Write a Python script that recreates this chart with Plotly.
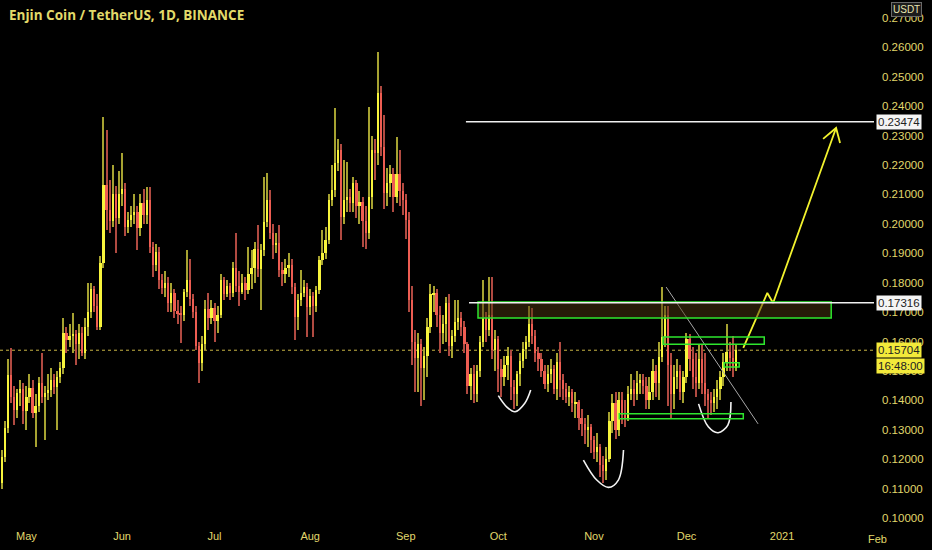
import pandas as pd
import plotly.graph_objects as go

title_text = "Enjin Coin / TetherUS, 1D, BINANCE"
start_date = "2020-04-23"

close = [
    0.1207, 0.1306, 0.1486, 0.1411, 0.1367, 0.1425, 0.1440, 0.1365, 0.1410, 0.1442,
    0.1357, 0.1380, 0.1459, 0.1411, 0.1425, 0.1435, 0.1470, 0.1445, 0.1480, 0.1510,
    0.1629, 0.1605, 0.1620, 0.1625, 0.1590, 0.1630, 0.1560, 0.1650, 0.1700, 0.1780,
    0.1720, 0.1650, 0.1867, 0.2132, 0.2047, 0.2010, 0.2100, 0.2020, 0.2100, 0.2120,
    0.1989, 0.2013, 0.2030, 0.2040, 0.1985, 0.2070, 0.2030, 0.2080, 0.1921, 0.1860,
    0.1905, 0.1809, 0.1782, 0.1800, 0.1731, 0.1765, 0.1705, 0.1695, 0.1690, 0.1768,
    0.1809, 0.1745, 0.1700, 0.1585, 0.1528, 0.1590, 0.1710, 0.1680, 0.1715, 0.1670,
    0.1690, 0.1809, 0.1760, 0.1790, 0.1765, 0.1850, 0.1790, 0.1770, 0.1800, 0.1775,
    0.1830, 0.1850, 0.1915, 0.1845, 0.1911, 0.2006, 0.2081, 0.1969, 0.1928, 0.1935,
    0.1843, 0.1830, 0.1850, 0.1860, 0.1785, 0.1683, 0.1741, 0.1765, 0.1785, 0.1718,
    0.1755, 0.1720, 0.1775, 0.1877, 0.1900, 0.1945, 0.2081, 0.2115, 0.2207, 0.2251,
    0.2023, 0.2081, 0.2090, 0.2070, 0.2140, 0.2060, 0.2075, 0.2010, 0.1969, 0.2091,
    0.2251, 0.2240, 0.2445, 0.2262, 0.2105, 0.2140, 0.2170, 0.2090, 0.2170, 0.2110,
    0.2080, 0.2013, 0.1740, 0.1600, 0.1545, 0.1590, 0.1510, 0.1550, 0.1650, 0.1760,
    0.1765, 0.1690, 0.1630, 0.1660, 0.1730, 0.1585, 0.1620, 0.1665, 0.1680, 0.1650,
    0.1590, 0.1450, 0.1490, 0.1420, 0.1500, 0.1600, 0.1680, 0.1640, 0.1690, 0.1570,
    0.1610, 0.1505, 0.1480, 0.1520, 0.1550, 0.1445, 0.1420, 0.1490, 0.1535, 0.1575,
    0.1600, 0.1660, 0.1620, 0.1560, 0.1540, 0.1500, 0.1455, 0.1490, 0.1505, 0.1440,
    0.1530, 0.1470, 0.1440, 0.1410, 0.1430, 0.1390, 0.1395, 0.1340, 0.1320, 0.1300,
    0.1310, 0.1265, 0.1225, 0.1240, 0.1180, 0.1160, 0.1200, 0.1330, 0.1390, 0.1300,
    0.1400, 0.1350, 0.1340, 0.1420, 0.1440, 0.1420, 0.1460, 0.1470, 0.1450, 0.1400,
    0.1430, 0.1500, 0.1460, 0.1547, 0.1615, 0.1690, 0.1520, 0.1420, 0.1480, 0.1500,
    0.1430, 0.1480, 0.1610, 0.1540, 0.1480, 0.1460, 0.1540, 0.1460, 0.1420, 0.1400,
    0.1390, 0.1410, 0.1440, 0.1480, 0.1530, 0.1565, 0.1545, 0.1510, 0.15704,
]

high = [
    0.1230, 0.1330, 0.1540, 0.1578, 0.1450, 0.1440, 0.1470, 0.1460, 0.1450, 0.1490,
    0.1470, 0.1420, 0.1480, 0.1560, 0.1450, 0.1490, 0.1510, 0.1490, 0.1500, 0.1530,
    0.1680, 0.1650, 0.1660, 0.1697, 0.1640, 0.1660, 0.1650, 0.1680, 0.1800, 0.1800,
    0.1790, 0.1760, 0.1890, 0.2363, 0.2320, 0.2150, 0.2200, 0.2130, 0.2180, 0.2240,
    0.2140, 0.2040, 0.2060, 0.2100, 0.2060, 0.2100, 0.2120, 0.2125, 0.2125, 0.1940,
    0.1930, 0.1920, 0.1830, 0.1840, 0.1820, 0.1800, 0.1780, 0.1740, 0.1720, 0.1780,
    0.1911, 0.1880, 0.1760, 0.1720, 0.1600, 0.1620, 0.1740, 0.1765, 0.1740, 0.1730,
    0.1720, 0.1830, 0.1820, 0.1810, 0.1800, 0.1870, 0.1969, 0.1840, 0.1830, 0.1820,
    0.1920, 0.1911, 0.1940, 0.1996, 0.1930, 0.2159, 0.2173, 0.2114, 0.2000, 0.1969,
    0.1995, 0.1870, 0.1880, 0.1900, 0.1880, 0.1800, 0.1760, 0.1843, 0.1810, 0.1800,
    0.1780, 0.1770, 0.1790, 0.1890, 0.1980, 0.1990, 0.2100, 0.2200, 0.2394, 0.2290,
    0.2270, 0.2217, 0.2210, 0.2120, 0.2160, 0.2150, 0.2110, 0.2090, 0.2060, 0.2397,
    0.2300, 0.2290, 0.2585, 0.2470, 0.2370, 0.2190, 0.2200, 0.2190, 0.2296, 0.2250,
    0.2140, 0.2100, 0.2040, 0.1790, 0.1640, 0.1630, 0.1610, 0.1580, 0.1680, 0.1795,
    0.1790, 0.1780, 0.1720, 0.1690, 0.1750, 0.1760, 0.1640, 0.1740, 0.1740, 0.1700,
    0.1670, 0.1600, 0.1510, 0.1520, 0.1520, 0.1620, 0.1810, 0.1700, 0.1820, 0.1820,
    0.1640, 0.1620, 0.1540, 0.1550, 0.1580, 0.1570, 0.1470, 0.1500, 0.1560, 0.1600,
    0.1620, 0.1720, 0.1715, 0.1640, 0.1580, 0.1560, 0.1520, 0.1520, 0.1540, 0.1520,
    0.1560, 0.1600, 0.1490, 0.1460, 0.1450, 0.1440, 0.1430, 0.1400, 0.1370, 0.1340,
    0.1350, 0.1320, 0.1280, 0.1290, 0.1250, 0.1210, 0.1240, 0.1360, 0.1420, 0.1430,
    0.1430, 0.1430, 0.1400, 0.1450, 0.1490, 0.1470, 0.1500, 0.1490, 0.1490, 0.1480,
    0.1480, 0.1540, 0.1520, 0.1600, 0.1785, 0.1720, 0.1720, 0.1560, 0.1520, 0.1540,
    0.1520, 0.1500, 0.1630, 0.1625, 0.1580, 0.1560, 0.1590, 0.1590, 0.1560, 0.1440,
    0.1430, 0.1440, 0.1470, 0.1500, 0.1560, 0.1660, 0.1600, 0.1620, 0.1590,
]

low = [
    0.1100, 0.1190, 0.1290, 0.1390, 0.1316, 0.1340, 0.1380, 0.1320, 0.1300, 0.1390,
    0.1340, 0.1240, 0.1360, 0.1390, 0.1265, 0.1400, 0.1410, 0.1420, 0.1300, 0.1460,
    0.1490, 0.1560, 0.1580, 0.1560, 0.1520, 0.1540, 0.1550, 0.1540, 0.1620, 0.1680,
    0.1700, 0.1640, 0.1640, 0.1850, 0.1980, 0.1970, 0.1990, 0.1900, 0.2000, 0.2060,
    0.1960, 0.1970, 0.1990, 0.2000, 0.1910, 0.1960, 0.2000, 0.2000, 0.1900, 0.1820,
    0.1840, 0.1780, 0.1760, 0.1750, 0.1700, 0.1700, 0.1680, 0.1660, 0.1595, 0.1670,
    0.1750, 0.1720, 0.1680, 0.1570, 0.1459, 0.1500, 0.1570, 0.1640, 0.1660, 0.1600,
    0.1630, 0.1680, 0.1740, 0.1750, 0.1740, 0.1750, 0.1770, 0.1720, 0.1760, 0.1740,
    0.1760, 0.1780, 0.1800, 0.1820, 0.1707, 0.1890, 0.1990, 0.1950, 0.1880, 0.1900,
    0.1820, 0.1790, 0.1800, 0.1820, 0.1760, 0.1605, 0.1640, 0.1720, 0.1750, 0.1615,
    0.1690, 0.1615, 0.1700, 0.1760, 0.1860, 0.1880, 0.1930, 0.2060, 0.2090, 0.2180,
    0.1945, 0.2000, 0.2040, 0.2040, 0.2040, 0.2020, 0.2000, 0.1920, 0.1915, 0.1950,
    0.2050, 0.2150, 0.2200, 0.2230, 0.2050, 0.2060, 0.2090, 0.2040, 0.2070, 0.2060,
    0.2030, 0.1950, 0.1700, 0.1520, 0.1430, 0.1430, 0.1380, 0.1400, 0.1480, 0.1630,
    0.1700, 0.1650, 0.1560, 0.1590, 0.1600, 0.1550, 0.1545, 0.1600, 0.1640, 0.1620,
    0.1560, 0.1420, 0.1400, 0.1390, 0.1395, 0.1480, 0.1580, 0.1600, 0.1620, 0.1540,
    0.1500, 0.1430, 0.1410, 0.1450, 0.1470, 0.1400, 0.1370, 0.1380, 0.1450, 0.1510,
    0.1540, 0.1580, 0.1590, 0.1530, 0.1500, 0.1480, 0.1440, 0.1430, 0.1460, 0.1420,
    0.1400, 0.1410, 0.1400, 0.1390, 0.1380, 0.1360, 0.1340, 0.1300, 0.1280, 0.1250,
    0.1240, 0.1220, 0.1200, 0.1190, 0.1140, 0.1120, 0.1130, 0.1190, 0.1290, 0.1270,
    0.1280, 0.1320, 0.1310, 0.1330, 0.1400, 0.1380, 0.1400, 0.1420, 0.1420, 0.1370,
    0.1370, 0.1400, 0.1410, 0.1400, 0.1530, 0.1580, 0.1380, 0.1340, 0.1370, 0.1440,
    0.1400, 0.1390, 0.1460, 0.1500, 0.1440, 0.1410, 0.1440, 0.1420, 0.1380, 0.1340,
    0.1350, 0.1360, 0.1370, 0.1400, 0.1450, 0.1500, 0.1500, 0.1480, 0.1500,
]

first_open = 0.1119
open_ = [first_open] + close[:-1]
high = [max(h, o, c) for h, o, c in zip(high, open_, close)]
low = [min(l, o, c) for l, o, c in zip(low, open_, close)]
dates = pd.date_range(start_date, periods=len(close), freq="D")

# axis ticks
x_tick_vals = ["2020-05-01", "2020-06-01", "2020-07-01", "2020-08-01", "2020-09-01",
               "2020-10-01", "2020-11-01", "2020-12-01", "2021-01-01"]
x_tick_text = ["May", "Jun", "Jul", "Aug", "Sep", "Oct", "Nov", "Dec", "2021"]
extra_month_label = "Feb"
x_range = ["2020-04-22 10:48", "2021-01-30 19:00"]
y_range = [0.0966, 0.2761]

# levels and drawings
last_price = 0.15704
countdown = "16:48:00"
level_high = 0.23474
level_high_start = "2020-09-20 12:00"
level_mid = 0.17316
level_mid_start = "2020-09-21 12:00"

zone_x = ["2020-09-24 10:00", "2021-01-16 22:00"]
zone_y = [0.1680, 0.1734]
dec_box_x = ["2020-11-23 10:00", "2020-12-26 05:00"]
dec_box_y = [0.1591, 0.1615]
low_box_x = ["2020-11-09 05:00", "2020-12-19 10:00"]
low_box_y = [0.1337, 0.1354]
small_box_x = ["2020-12-13 05:00", "2020-12-18 02:00"]
small_box_y = [0.1513, 0.1528]

trend_x = ["2020-11-24 10:00", "2020-12-24 05:00"]
trend_y = [0.1785, 0.1320]

oct_u_x = ["2020-10-01 00:00", "2020-10-03 17:00", "2020-10-06 10:00", "2020-10-09 14:00", "2020-10-11 12:00"]
oct_u_y = [0.1416, 0.1378, 0.1361, 0.1390, 0.1435]
nov_u_x = ["2020-10-28 14:00", "2020-11-01 22:00", "2020-11-05 17:00", "2020-11-08 22:00", "2020-11-10 14:00"]
nov_u_y = [0.1197, 0.1129, 0.1104, 0.1129, 0.1231]
dec_u_x = ["2020-12-04 22:00", "2020-12-08 02:00", "2020-12-11 06:00", "2020-12-14 10:00", "2020-12-15 10:00"]
dec_u_y = [0.1388, 0.1310, 0.1290, 0.1316, 0.1394]

arrow_x = ["2020-12-19 10:00", "2020-12-27 05:00", "2020-12-29 02:00", "2021-01-18 12:00"]
arrow_y = [0.1578, 0.1765, 0.1731, 0.2326]
head_x = ["2021-01-14 07:00", "2021-01-18 12:00", "2021-01-19 19:00"]
head_y = [0.2289, 0.2326, 0.2275]

TXT = "#e0d86c"
FONT = "Liberation Sans, Arial, sans-serif"
DAY_MS = 86400000
PLOT_W = 874

up = [c >= o for o, c in zip(open_, close)]
body_colors = ["#f7f43c" if u else "#ee5d52" for u in up]
wick_colors = ["#a6a231" if u else "#b04a41" for u in up]

fig = go.Figure()
# wicks
fig.add_trace(go.Bar(
    x=dates, base=low, y=[h - l for h, l in zip(high, low)],
    width=0.34 * DAY_MS, marker=dict(color=wick_colors, line=dict(width=0)),
    showlegend=False, hoverinfo="skip",
))
# bodies
fig.add_trace(go.Bar(
    x=dates, base=open_, y=[c - o for o, c in zip(open_, close)],
    width=0.74 * DAY_MS, marker=dict(color=body_colors, line=dict(width=0)),
    showlegend=False, hoverinfo="skip",
))

def curve(xs, ys, color, width, shape="linear"):
    fig.add_trace(go.Scatter(x=xs, y=ys, mode="lines",
                             line=dict(color=color, width=width, shape=shape),
                             showlegend=False, hoverinfo="skip"))

curve(oct_u_x, oct_u_y, "#f2f2f2", 1.6, "spline")
curve(nov_u_x, nov_u_y, "#f2f2f2", 1.6, "spline")
curve(dec_u_x, dec_u_y, "#f2f2f2", 1.6, "spline")
curve(trend_x, trend_y, "#a8a8a8", 1)
curve(arrow_x, arrow_y, "#f2f22e", 1.8)
curve(head_x, head_y, "#f2f22e", 1.8)

shapes = []
shapes.append(dict(type="line", xref="paper", x0=0, x1=1, yref="y", y0=last_price, y1=last_price,
                   line=dict(color="#c8b445", width=1, dash="dot"), layer="below"))
shapes.append(dict(type="rect", xref="x", yref="y", x0=zone_x[0], x1=zone_x[1], y0=zone_y[0], y1=zone_y[1],
                   fillcolor="rgba(75,52,16,0.5)", line=dict(color="#2ee62e", width=1.5), layer="above"))
for bx, by in [(dec_box_x, dec_box_y), (low_box_x, low_box_y), (small_box_x, small_box_y)]:
    shapes.append(dict(type="rect", xref="x", yref="y", x0=bx[0], x1=bx[1], y0=by[0], y1=by[1],
                       fillcolor="rgba(0,0,0,0)", line=dict(color="#2ee62e", width=1.5), layer="above"))
shapes.append(dict(type="line", xref="x", yref="y", x0=level_high_start, x1="2021-02-10",
                   y0=level_high, y1=level_high, line=dict(color="#f0f0f0", width=1.5)))
shapes.append(dict(type="line", xref="x", yref="y", x0=level_mid_start, x1="2021-02-10",
                   y0=level_mid, y1=level_mid, line=dict(color="#f0f0f0", width=1.5)))

annotations = [
    dict(text="<b>" + title_text + "</b>", xref="paper", yref="paper", x=0.008, y=1 - 15 / 528,
         xanchor="left", yanchor="middle", showarrow=False,
         font=dict(family="Open Sans, sans-serif", size=13.5, color="#e2da6a")),
    dict(text=extra_month_label, xref="paper", yref="paper", x=877.6 / PLOT_W, y=0, xanchor="center",
         yanchor="top", yshift=-3, showarrow=False, font=dict(family=FONT, size=11, color=TXT)),
    dict(text="USDT", xref="paper", yref="paper", x=907 / PLOT_W, y=1 - 9 / 528, xanchor="center",
         yanchor="middle", showarrow=False, bgcolor="#1c1c1c", bordercolor="#6a6a6a", borderwidth=1,
         borderpad=1, font=dict(family=FONT, size=10, color="#e8e4b0")),
]
for val, bg, fg in [(level_high, "#f4f4f4", "#222222"), (level_mid, "#f4f4f4", "#222222"),
                    (last_price, "#f3ea3a", "#222222")]:
    annotations.append(dict(text=f"{val:.5f}", xref="paper", yref="y", x=1.002, y=val, xanchor="left",
                            yanchor="middle", showarrow=False, bgcolor=bg, borderpad=1,
                            font=dict(family=FONT, size=11.5, color=fg)))
annotations.append(dict(text=countdown, xref="paper", yref="y", x=1.002, y=last_price, yshift=-16,
                        xanchor="left", yanchor="middle", showarrow=False, bgcolor="#f3ea3a", borderpad=1,
                        font=dict(family=FONT, size=11.5, color="#222222")))

fig.update_layout(
    width=932, height=550,
    margin=dict(l=0, r=58, t=0, b=22),
    paper_bgcolor="#000000", plot_bgcolor="#000000",
    barmode="overlay", bargap=0,
    shapes=shapes, annotations=annotations,
    xaxis=dict(type="date", range=x_range, showgrid=False,
               zeroline=False, showline=False, ticks="", tickvals=x_tick_vals, ticktext=x_tick_text,
               tickfont=dict(family=FONT, size=11, color=TXT)),
    yaxis=dict(side="right", range=y_range, dtick=0.01, tick0=0.1, tickformat=".5f", showgrid=False,
               zeroline=False, showline=False, ticks="", ticklabelstandoff=7,
               tickfont=dict(family=FONT, size=11.5, color=TXT)),
)

fig.write_html("out.html", config={"displayModeBar": False},
               post_script="document.body.style.margin='0px';document.body.style.background='#000';")
